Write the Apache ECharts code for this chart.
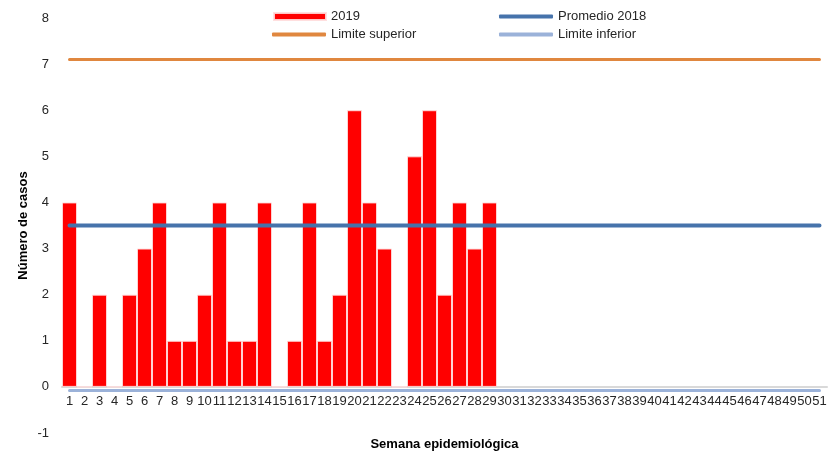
<!DOCTYPE html>
<html>
<head>
<meta charset="utf-8">
<script src="https://cdn.jsdelivr.net/npm/echarts@6/dist/echarts.min.js"></script>
<style>
  html, body { margin: 0; padding: 0; background: #fff; }
  #chart { width: 834px; height: 453px; }
</style>
</head>
<body>
<div id="chart"></div>
<script>
// Epidemiological weeks shown on the category axis
const weeks = ['1','2','3','4','5','6','7','8','9','10','11','12','13','14','15','16','17','18','19','20','21','22','23','24','25','26','27','28','29','30','31','32','33','34','35','36','37','38','39','40','41','42','43','44','45','46','47','48','49','50','51'];

// Cases reported per week in 2019 (weeks 1-29)
const cases2019 = [4, 0, 2, 0, 2, 3, 4, 1, 1, 2, 4, 1, 1, 4, 0, 1, 4, 1, 2, 6, 4, 3, 0, 5, 6, 2, 4, 3, 4];

// Reference levels from the 2018 channel
const promedio2018 = 3.5;
const limiteSuperior = 7.1;
const limiteInferior = -0.08;

// Y axis tick range
const yTicks = { min: -1, max: 8, step: 1 };

const font = 'Liberation Sans, Arial, sans-serif';
const textColor = '#262626';

const gridTop = 18;
const gridBottom = 20;
const chartHeight = 453;

// Pixel offset that lifts the category axis from the grid bottom up to y = 0
const unitPx = (chartHeight - gridTop - gridBottom) / (yTicks.max - yTicks.min);
const zeroOffset = -(0 - yTicks.min) * unitPx;

const constantLine = v => weeks.map(() => v);

const chart = echarts.init(document.getElementById('chart'), null, { renderer: 'canvas' });

const lineSeries = (name, value, color, width) => ({
  name,
  type: 'line',
  data: constantLine(value),
  symbol: 'none',
  silent: true,
  z: 3,
  lineStyle: { color, width, cap: 'round' },
  itemStyle: { color }
});

const legendText = { fontSize: 13, color: textColor, fontFamily: font };

chart.setOption({
  animation: false,
  textStyle: { fontFamily: font },
  grid: { left: 62, right: 7, top: gridTop, bottom: gridBottom, containLabel: false, outerBoundsMode: 'none' },
  legend: [
    { data: [{ name: '2019', icon: 'rect' }], left: 273, top: 10, padding: 0, itemWidth: 52, itemHeight: 7, textStyle: legendText },
    { data: [{ name: 'Limite superior', icon: 'roundRect' }], left: 272, top: 28, padding: 0, itemWidth: 54, itemHeight: 4, textStyle: legendText },
    { data: [{ name: 'Promedio 2018', icon: 'roundRect' }], left: 499, top: 10, padding: 0, itemWidth: 54, itemHeight: 4, textStyle: legendText },
    { data: [{ name: 'Limite inferior', icon: 'roundRect' }], left: 499, top: 28, padding: 0, itemWidth: 54, itemHeight: 4, textStyle: legendText }
  ],
  xAxis: {
    type: 'category',
    data: weeks,
    boundaryGap: true,
    offset: zeroOffset,
    name: 'Semana epidemiológica',
    nameLocation: 'middle',
    nameGap: 51,
    nameMoveOverlap: false,
    nameTextStyle: { fontSize: 13, fontWeight: 'bold', color: '#000', fontFamily: font },
    axisLine: { onZero: false, lineStyle: { color: '#d9d9d9', width: 2 } },
    axisTick: { show: false },
    axisLabel: { interval: 0, fontSize: 13, color: textColor, margin: 8, fontFamily: font }
  },
  yAxis: {
    type: 'value',
    min: yTicks.min,
    max: yTicks.max,
    interval: yTicks.step,
    name: 'Número de casos',
    nameLocation: 'middle',
    nameGap: 32,
    nameMoveOverlap: false,
    nameTextStyle: { fontSize: 13, fontWeight: 'bold', color: '#000', fontFamily: font },
    axisLine: { show: false },
    axisTick: { show: false },
    splitLine: { show: false },
    axisLabel: { fontSize: 13, color: textColor, margin: 13, fontFamily: font }
  },
  series: [
    {
      name: '2019',
      type: 'bar',
      data: cases2019,
      barCategoryGap: '0%',
      z: 2,
      itemStyle: { color: '#ff0000', borderColor: 'rgba(255,220,220,0.9)', borderWidth: 1 }
    },
    lineSeries('Promedio 2018', promedio2018, '#4673ab', 4),
    lineSeries('Limite superior', limiteSuperior, '#e0873f', 3),
    lineSeries('Limite inferior', limiteInferior, '#9bb2d9', 3)
  ]
});
</script>
</body>
</html>
